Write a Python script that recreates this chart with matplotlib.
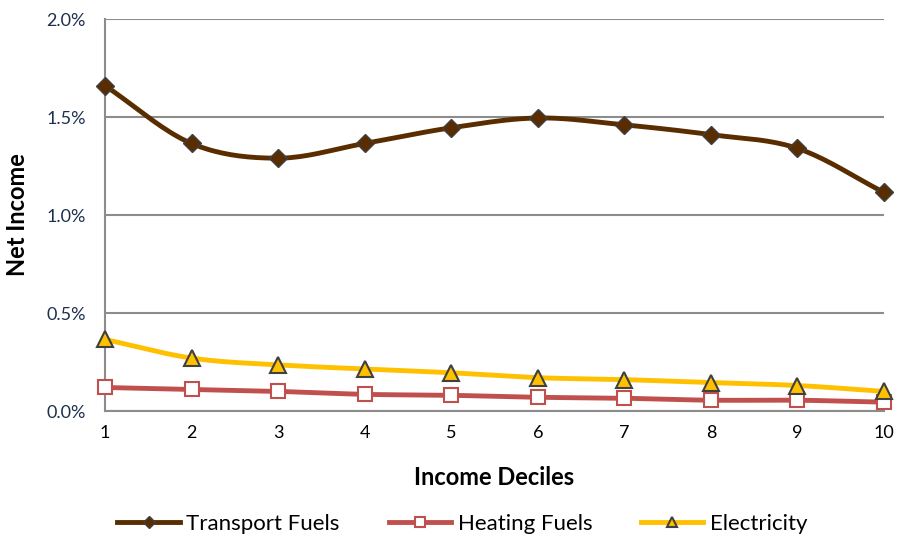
import numpy as np
import matplotlib
matplotlib.use("Agg")
import matplotlib.pyplot as plt
from matplotlib.ticker import FuncFormatter

plt.rcParams['font.family'] = ['Lato', 'DejaVu Sans']

deciles = [1, 2, 3, 4, 5, 6, 7, 8, 9, 10]
transporte = [1.66, 1.365, 1.29, 1.365, 1.445, 1.495, 1.46, 1.41, 1.34, 1.115]
calefaccion = [0.12, 0.11, 0.10, 0.085, 0.08, 0.07, 0.065, 0.055, 0.055, 0.045]
electricidad = [0.365, 0.27, 0.235, 0.215, 0.195, 0.17, 0.16, 0.145, 0.13, 0.10]


def suavizar(x, y, n=20):
    # curva tipo Catmull-Rom, como el "smoothed line" de Excel
    x = np.asarray(x, float)
    y = np.asarray(y, float)
    px = np.concatenate([[2 * x[0] - x[1]], x, [2 * x[-1] - x[-2]]])
    py = np.concatenate([[2 * y[0] - y[1]], y, [2 * y[-1] - y[-2]]])
    xs, ys = [], []
    t = np.linspace(0, 1, n, endpoint=False)
    for i in range(1, len(px) - 2):
        for p, out in ((px, xs), (py, ys)):
            p0, p1, p2, p3 = p[i - 1], p[i], p[i + 1], p[i + 2]
            out.extend(0.5 * ((2 * p1) + (-p0 + p2) * t
                              + (2 * p0 - 5 * p1 + 4 * p2 - p3) * t ** 2
                              + (-p0 + 3 * p1 - 3 * p2 + p3) * t ** 3))
    xs.append(x[-1])
    ys.append(y[-1])
    return np.array(xs), np.array(ys)


fig = plt.figure(figsize=(8.98, 5.37), dpi=100)
ax = fig.add_axes([105 / 898, 1 - 411 / 537, 779 / 898, 392 / 537])

series = [
    (transporte, 'Transport Fuels', '#5A2D00', dict(marker='D', markersize=9, markerfacecolor='#5A2D00', markeredgecolor='#404040')),
    (calefaccion, 'Heating Fuels', '#C0504D', dict(marker='s', markersize=10, markerfacecolor='white', markeredgecolor='#C0504D', markeredgewidth=1.5)),
    (electricidad, 'Electricity', '#FFC000', dict(marker='^', markersize=11, markerfacecolor='#FFC000', markeredgecolor='#404040', markeredgewidth=1.5)),
]

for datos, nombre, color, estilo in series:
    xs, ys = suavizar(deciles, np.array(datos) / 100)
    ax.plot(xs, ys, color=color, lw=3.5, zorder=3, solid_capstyle='round')
    ax.plot(deciles, np.array(datos) / 100, ls='none', zorder=4, clip_on=False, **estilo)
    ax.plot([], [], color=color, lw=3.5, label=nombre,
            **{k: (v * 0.7 if k == 'markersize' else v) for k, v in estilo.items()})

ax.set_xlim(1, 10)
ax.set_ylim(0, 0.02)
ax.set_xticks(deciles)
ax.set_yticks(np.arange(0, 0.0201, 0.005))
ax.yaxis.set_major_formatter(FuncFormatter(lambda v, _: f'{v * 100:.1f}%'))
ax.grid(axis='y', color='#8C8C8C', lw=1.5)
ax.set_axisbelow(True)
for lado in ['top', 'right']:
    ax.spines[lado].set_visible(False)
for lado in ['left', 'bottom']:
    ax.spines[lado].set_color('#8C8C8C')
    ax.spines[lado].set_linewidth(1.5)
ax.tick_params(length=0, labelsize=13)
ax.tick_params(axis='y', pad=14, labelcolor='#1F2F4F')
ax.tick_params(axis='x', pad=10)

ax.set_xlabel('Income Deciles', fontsize=17, fontweight='bold', labelpad=18)
ax.set_ylabel('Net Income', fontsize=17, fontweight='bold', labelpad=12)

fig.legend(loc='center', bbox_to_anchor=(0.515, 1 - 524 / 537), ncol=3, frameon=False,
           fontsize=16, handlelength=2.8, columnspacing=2.2, handletextpad=0.3)

fig.savefig('out.png', dpi=100)
